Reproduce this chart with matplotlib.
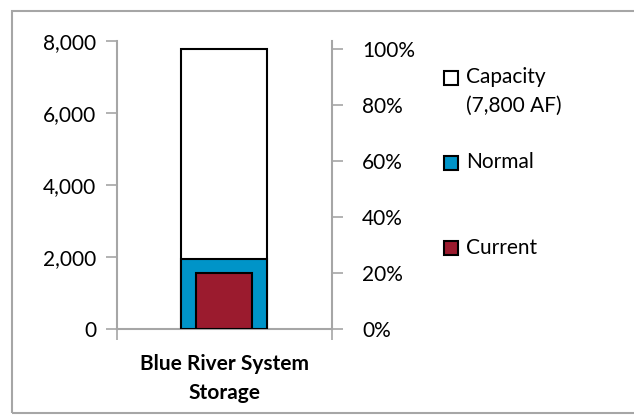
import matplotlib
matplotlib.use("Agg")
import matplotlib.pyplot as plt
from matplotlib.patches import Rectangle

categories = ["Blue River System\nStorage"]
capacity = [7800]
normal = [1940]
current = [1550]
left_ticks = [0, 2000, 4000, 6000, 8000]
right_ticks = [0, 20, 40, 60, 80, 100]
legend_labels = ["Capacity\n(7,800 AF)", "Normal", "Current"]

plt.rcParams['font.family'] = ['Lato', 'DejaVu Sans']
FS = 15
AX_COL = '#A6A6A6'
BLUE = '#0094C8'
RED = '#9B1B2E'

fig = plt.figure(figsize=(6.34, 4.15), dpi=100)
ax = fig.add_axes([117/634, 1-329/415, (331.7-117)/634, (329-41.5)/415])

x = [0]
ax.bar(x, capacity, width=0.40, color='white', edgecolor='black', linewidth=1.5, zorder=2)
ax.bar(x, normal, width=0.40, color=BLUE, edgecolor='black', linewidth=1.5, zorder=3)
ax.bar(x, current, width=0.26, color=RED, edgecolor='black', linewidth=1.5, zorder=4)

ax.set_xlim(-0.5, 0.5)
ax.set_ylim(0, 8000)
ax.set_yticks(left_ticks)
ax.set_yticklabels([f"{v:,}" for v in left_ticks], fontsize=FS)
ax.set_xticks([-0.5, 0.5])
ax.set_xticklabels([])
ax.tick_params(axis='y', direction='out', length=8, width=1.2, color=AX_COL, pad=7)
ax.tick_params(axis='x', direction='out', length=8, width=1.2, color=AX_COL)
for s in ['top', 'right']:
    ax.spines[s].set_visible(False)
for s in ['left', 'bottom']:
    ax.spines[s].set_color(AX_COL)
    ax.spines[s].set_linewidth(1.5)
ax.text(0, -0.088, categories[0], transform=ax.get_xaxis_transform(), ha='center', va='top',
        fontsize=FS, fontweight='bold', linespacing=1.55)

ax2 = ax.twinx()
ax2.set_ylim(0, 8000 / capacity[0] * 100)
ax2.set_yticks(right_ticks)
ax2.set_yticklabels([f"{v}%" for v in right_ticks], fontsize=FS)
ax2.tick_params(axis='y', direction='out', length=8, width=1.2, color=AX_COL, pad=14)
for s in ['top', 'left', 'bottom']:
    ax2.spines[s].set_visible(False)
ax2.spines['right'].set_color(AX_COL)
ax2.spines['right'].set_linewidth(1.5)

# legend
W, H = 634, 415
colors = ['white', BLUE, RED]
ycent = [78, 163.5, 248.5]
for c, yc, lab in zip(colors, ycent, legend_labels):
    fig.patches.append(Rectangle((444/W, 1-(yc+7)/H), 14/W, 14/H, transform=fig.transFigure,
                                 facecolor=c, edgecolor='black', linewidth=1.5))
    fig.text(466/W, 1-(yc-11)/H, lab, ha='left', va='top', fontsize=FS, linespacing=1.55)

# outer border
fig.patches.append(Rectangle((12/W, 1-413/H), 640/W, 402/H, transform=fig.transFigure,
                             facecolor='none', edgecolor=AX_COL, linewidth=1.5, clip_on=False))

fig.savefig("out.png", dpi=100)
